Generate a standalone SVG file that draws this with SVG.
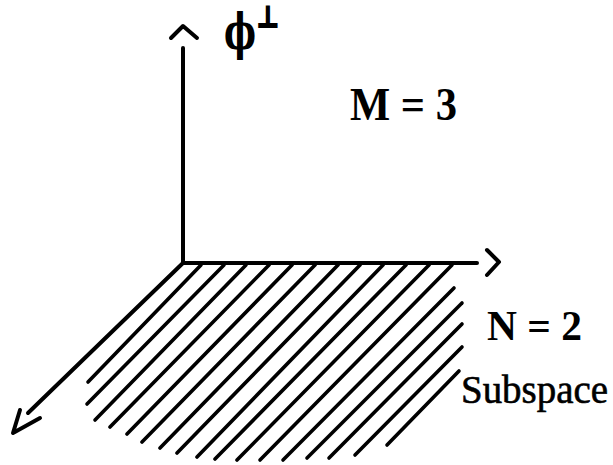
<svg xmlns="http://www.w3.org/2000/svg" width="613" height="465" viewBox="0 0 613 465">
<style>
.ax{fill:none;stroke:#000;stroke-width:4;stroke-linecap:round;stroke-linejoin:round}
.h{stroke:#000;stroke-width:3.6;stroke-linecap:round}
.lb{font-family:"Liberation Serif","Times New Roman",serif;font-weight:bold;fill:#000}
.sb{font-family:"Liberation Serif","Times New Roman",serif;fill:#000;stroke:#000;stroke-width:0.6}
</style>
<rect width="613" height="465" fill="#fff"/>
<g id="hatch">
<line class="h" x1="201" y1="265" x2="88" y2="382"/>
<line class="h" x1="224" y1="265" x2="87" y2="404"/>
<line class="h" x1="246" y1="265" x2="95" y2="420"/>
<line class="h" x1="269" y1="265" x2="110" y2="427"/>
<line class="h" x1="292" y1="265" x2="127" y2="434"/>
<line class="h" x1="315" y1="265" x2="142" y2="442"/>
<line class="h" x1="338" y1="265" x2="160" y2="448"/>
<line class="h" x1="360" y1="265" x2="177" y2="453"/>
<line class="h" x1="383" y1="265" x2="197" y2="457"/>
<line class="h" x1="406" y1="265" x2="215" y2="459"/>
<line class="h" x1="429" y1="265" x2="237" y2="460"/>
<line class="h" x1="452" y1="265" x2="260" y2="460"/>
<line class="h" x1="454" y1="288" x2="283" y2="460"/>
<line class="h" x1="462" y1="303" x2="307" y2="458"/>
<line class="h" x1="462" y1="324" x2="329" y2="458"/>
<line class="h" x1="462" y1="347" x2="355" y2="455"/>
<line class="h" x1="459" y1="371" x2="387" y2="445"/>
</g>
<g id="connectors">
<path id="axis-up" class="ax" d="M183 48 V263"/>
<path id="arrow-up" class="ax" d="M171 38 L183 26 L197 38"/>
<path id="axis-right" class="ax" d="M183 263 H477"/>
<path id="arrow-right" class="ax" d="M487 250 L499 262 L487 275"/>
<path id="axis-diag" class="ax" d="M183 263 L28 413"/>
<path id="arrow-diag" class="ax" d="M20 410 L13 433 L40 418"/>
</g>
<g id="label-phi">
<text x="240" y="49" font-size="50" text-anchor="middle" font-family="DejaVu Serif" font-weight="bold" transform="translate(240 0) scale(0.68 1) translate(-240 0)">ϕ</text>
<text x="268" y="27" font-size="29" text-anchor="middle" font-family="DejaVu Sans" font-weight="bold" stroke="#000" stroke-width="2" transform="translate(268 0) scale(0.82 1) translate(-268 0)">⊥</text>
</g>
<g id="label-M">
<text class="lb" x="350" y="120" font-size="46" textLength="107" lengthAdjust="spacingAndGlyphs">M = 3</text>
</g>
<g id="label-N">
<text class="lb" x="487" y="340" font-size="43" textLength="95" lengthAdjust="spacingAndGlyphs">N = 2</text>
</g>
<g id="label-sub">
<text class="sb" x="461" y="403" font-size="39" textLength="147" lengthAdjust="spacingAndGlyphs">Subspace</text>
</g>
</svg>
